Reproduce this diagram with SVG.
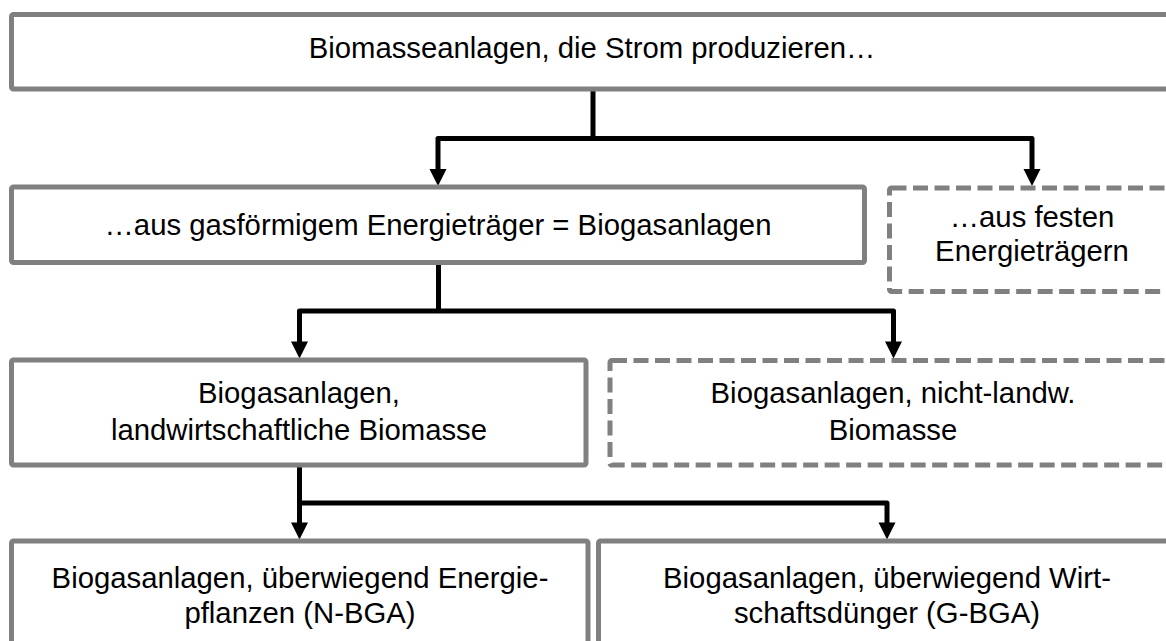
<svg xmlns="http://www.w3.org/2000/svg" width="1166" height="641" viewBox="0 0 1166 641">
  <style>
    .box { fill: #ffffff; stroke: #808080; stroke-width: 5; }
    .dash { fill: #ffffff; stroke: #808080; stroke-width: 5; stroke-dasharray: 15 6.5; }
    .lbl { font-family: "Liberation Sans", Arial, sans-serif; font-size: 29.3px; fill: #000000; text-anchor: middle; }
    .con { fill: none; stroke: #000000; stroke-width: 5; stroke-linejoin: round; }
    .head { fill: #000000; }
  </style>
  <rect width="1166" height="641" fill="#ffffff"/>

  <g id="connectors">
    <path class="con" d="M593,91 V138.5"/>
    <path class="con" d="M438,172 V138.5 H1032 V172"/>
    <polygon class="head" points="429.5,169 446.5,169 438,186"/>
    <polygon class="head" points="1023.5,169 1040.5,169 1032,186"/>

    <path class="con" d="M438.5,264 V311"/>
    <path class="con" d="M299.5,344 V311 H893.5 V344"/>
    <polygon class="head" points="291,341.5 308,341.5 299.5,358.5"/>
    <polygon class="head" points="885,341.5 902,341.5 893.5,358.5"/>

    <path class="con" d="M299.5,466 V525"/>
    <path class="con" d="M299.5,503 H887 V525"/>
    <polygon class="head" points="291,522.5 308,522.5 299.5,539.5"/>
    <polygon class="head" points="878.5,522.5 895.5,522.5 887,539.5"/>
  </g>

  <g id="n_top">
    <rect class="box" x="11.5" y="14.5" width="1160" height="74.5" rx="2"/>
    <text class="lbl" x="592" y="58">Biomasseanlagen, die Strom produzieren…</text>
  </g>

  <g id="n_gas">
    <rect class="box" x="11.5" y="187" width="853" height="75.5" rx="2"/>
    <text class="lbl" x="438" y="235">…aus gasförmigem Energieträger = Biogasanlagen</text>
  </g>

  <g id="n_fest">
    <rect class="dash" x="889.5" y="188" width="290" height="103.5" rx="2"/>
    <text class="lbl" x="1032" y="227">…aus festen</text>
    <text class="lbl" x="1032" y="261">Energieträgern</text>
  </g>

  <g id="n_landw">
    <rect class="box" x="11.5" y="360" width="574.5" height="105" rx="2"/>
    <text class="lbl" x="299" y="403">Biogasanlagen,</text>
    <text class="lbl" x="299" y="440">landwirtschaftliche Biomasse</text>
  </g>

  <g id="n_nichtlandw">
    <rect class="dash" x="610" y="360.5" width="570" height="104.5" rx="2"/>
    <text class="lbl" x="893" y="403">Biogasanlagen, nicht-landw.</text>
    <text class="lbl" x="893" y="440">Biomasse</text>
  </g>

  <g id="n_nbga">
    <rect class="box" x="11.5" y="541" width="576.5" height="110" rx="2"/>
    <text class="lbl" x="300" y="588">Biogasanlagen, überwiegend Energie-</text>
    <text class="lbl" x="300" y="623">pflanzen (N-BGA)</text>
  </g>

  <g id="n_gbga">
    <rect class="box" x="598.5" y="541" width="580" height="110" rx="2"/>
    <text class="lbl" x="887" y="588">Biogasanlagen, überwiegend Wirt-</text>
    <text class="lbl" x="887" y="623">schaftsdünger (G-BGA)</text>
  </g>
</svg>
